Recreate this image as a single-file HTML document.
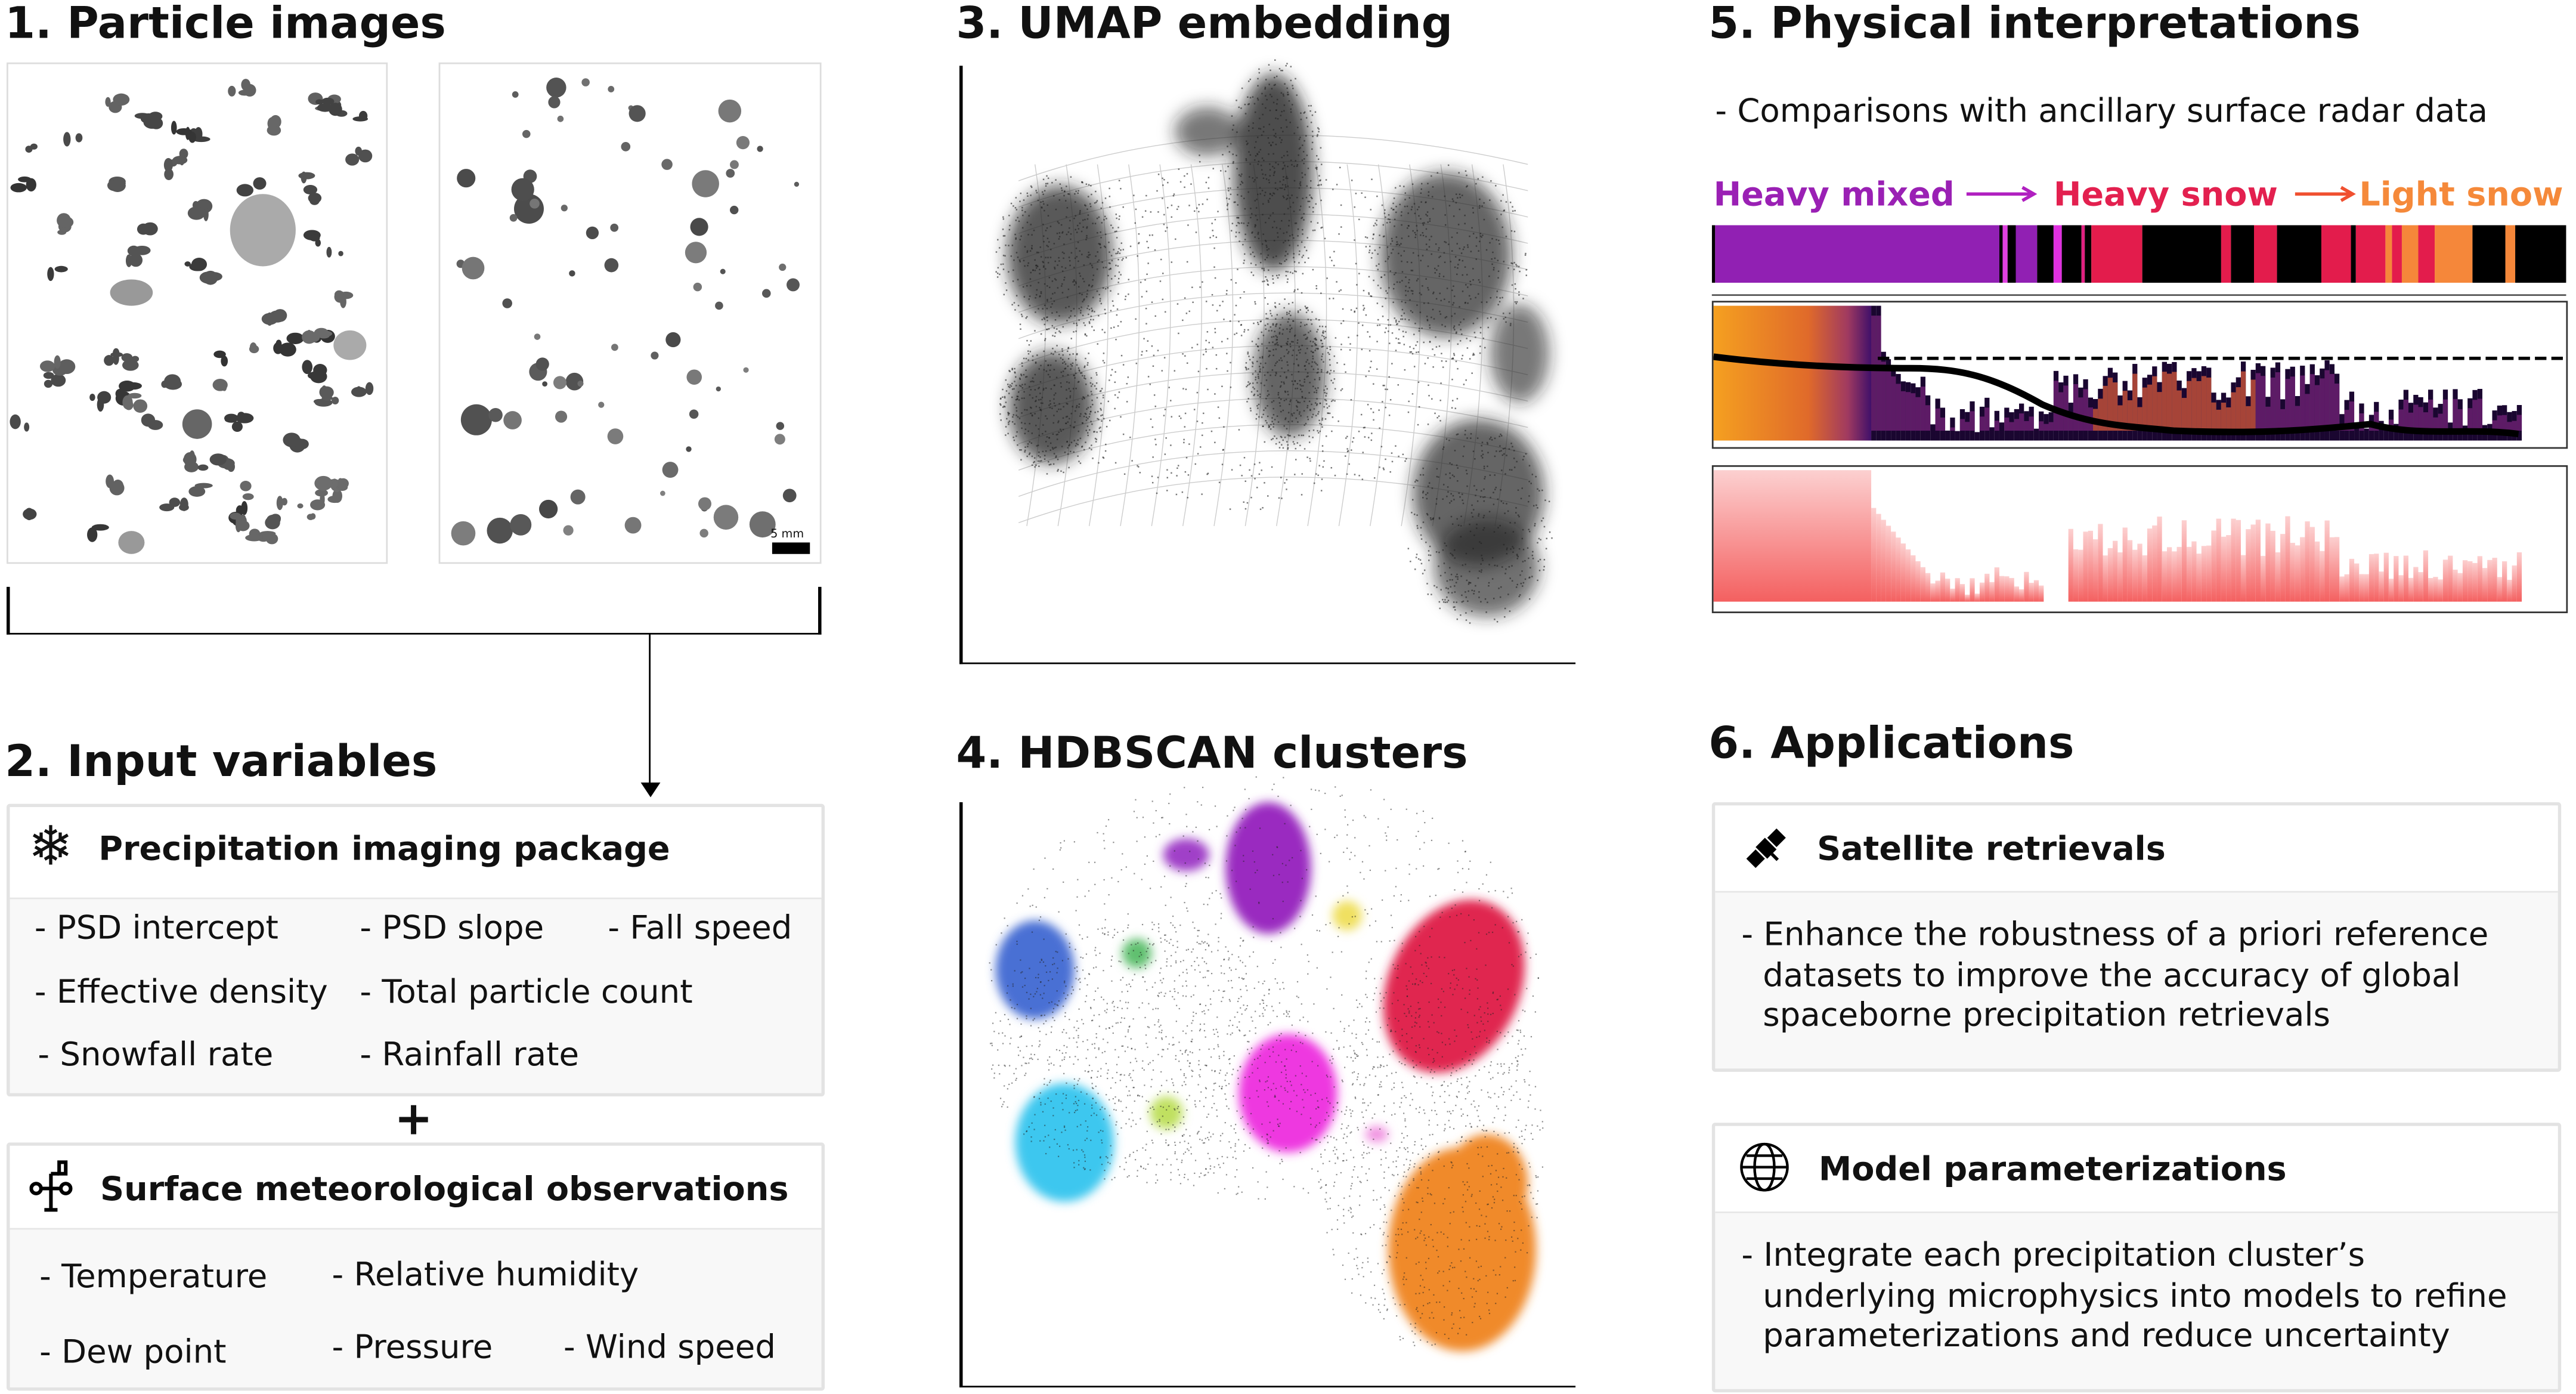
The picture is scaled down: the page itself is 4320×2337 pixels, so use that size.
<!DOCTYPE html>
<html><head><meta charset="utf-8"><style>
html,body{margin:0;padding:0;background:#fff;}
body{width:4320px;height:2337px;overflow:hidden;position:relative;}
#w{position:absolute;left:0;top:0;width:1568px;height:848px;transform:scale(2.7551,2.7559);transform-origin:0 0;font-family:"DejaVu Sans","Liberation Sans",sans-serif;color:#111;}
.t{position:absolute;font-weight:bold;font-size:26.5px;white-space:nowrap;line-height:1;}
.a{position:absolute;font-size:19.8px;white-space:nowrap;line-height:1;}
.h{position:absolute;font-weight:bold;font-size:20.2px;white-space:nowrap;line-height:1;}
.box{position:absolute;border:2px solid #e3e3e3;border-radius:2px;background:#f8f8f8;box-sizing:border-box;}
.hd{position:absolute;left:0;right:0;top:0;background:#fff;border-bottom:1px solid #e6e6e6;}
.ln{position:absolute;background:#000;}
</style></head><body><div id="w">

<div class="t" style="left:3px;top:2px">1. Particle images</div>
<div style="position:absolute;left:4px;top:38px;width:232px;height:305px;border:1.5px solid #ddd;box-sizing:border-box"></div>
<div style="position:absolute;left:267px;top:38px;width:233px;height:305px;border:1.5px solid #ddd;box-sizing:border-box"></div>
<svg id="pa" style="position:absolute;left:0;top:0" width="520" height="350"></svg>
<div style="position:absolute;left:470px;top:330px;width:23px;height:7px;background:#000"></div>
<div style="position:absolute;left:469px;top:321px;font-size:7px">5 mm</div>

<div class="ln" style="left:4px;top:357px;width:1.5px;height:29px"></div>
<div class="ln" style="left:498px;top:357px;width:1.5px;height:29px"></div>
<div class="ln" style="left:4px;top:384.5px;width:496px;height:1.5px"></div>
<div class="ln" style="left:394.5px;top:385px;width:1.5px;height:95px"></div>
<svg style="position:absolute;left:388px;top:476px" width="16" height="10"><polygon points="2,0 14,0 8,9" fill="#000"/></svg>

<div class="t" style="left:3px;top:451px">2. Input variables</div>
<div class="box" style="left:4px;top:489px;width:498px;height:178px"><div class="hd" style="height:55px"></div></div>
<div style="position:absolute;left:17px;top:498px;font-size:33px;line-height:1">❄</div>
<div class="h" style="left:60px;top:506px">Precipitation imaging package</div>
<div class="a" style="left:21px;top:555px">- PSD intercept</div>
<div class="a" style="left:219px;top:555px">- PSD slope</div>
<div class="a" style="left:370px;top:555px">- Fall speed</div>
<div class="a" style="left:21px;top:594px">- Effective density</div>
<div class="a" style="left:219px;top:594px">- Total particle count</div>
<div class="a" style="left:23px;top:632px">- Snowfall rate</div>
<div class="a" style="left:219px;top:632px">- Rainfall rate</div>
<div style="position:absolute;left:240px;top:667px;font-size:28px;font-weight:bold;line-height:1">+</div>
<div class="box" style="left:4px;top:695px;width:498px;height:151px"><div class="hd" style="height:50px"></div></div>
<svg style="position:absolute;left:18px;top:705px" width="30" height="34"><g stroke="#000" stroke-width="2.2" fill="none"><circle cx="4" cy="18" r="3"/><circle cx="22" cy="18" r="3"/><line x1="7" y1="18" x2="19" y2="18"/><line x1="13" y1="9" x2="13" y2="31"/><line x1="13" y1="9" x2="18" y2="9"/><rect x="18" y="2" width="4" height="7"/><line x1="9" y1="31" x2="17" y2="31"/></g></svg>
<div class="h" style="left:61px;top:713px">Surface meteorological observations</div>
<div class="a" style="left:24px;top:767px">- Temperature</div>
<div class="a" style="left:202px;top:766px">- Relative humidity</div>
<div class="a" style="left:24px;top:813px">- Dew point</div>
<div class="a" style="left:202px;top:810px">- Pressure</div>
<div class="a" style="left:343px;top:810px">- Wind speed</div>

<div class="t" style="left:582px;top:2px">3. UMAP embedding</div>
<div class="ln" style="left:584px;top:40px;width:1.5px;height:364px"></div>
<div class="ln" style="left:584px;top:402.5px;width:375px;height:1.5px"></div>
<div class="t" style="left:582px;top:446px">4. HDBSCAN clusters</div>
<div class="ln" style="left:584px;top:488px;width:1.5px;height:356px"></div>
<div class="ln" style="left:584px;top:842.5px;width:375px;height:1.5px"></div>
<svg id="um" style="position:absolute;left:0;top:0" width="1000" height="848">
<defs><filter id="b1"><feGaussianBlur stdDeviation="5"/></filter><filter id="b2"><feGaussianBlur stdDeviation="3"/></filter></defs>
<g id="grid" stroke="#aaa" stroke-width="0.5" fill="none" opacity="0.6"></g>
<g filter="url(#b1)" fill="#222">
<ellipse cx="645" cy="155" rx="32" ry="42" opacity="0.75"/>
<ellipse cx="775" cy="105" rx="24" ry="60" opacity="0.8"/>
<ellipse cx="735" cy="80" rx="20" ry="15" opacity="0.6"/>
<ellipse cx="880" cy="155" rx="40" ry="50" opacity="0.7"/>
<ellipse cx="925" cy="215" rx="18" ry="30" opacity="0.6"/>
<ellipse cx="640" cy="248" rx="26" ry="34" opacity="0.75"/>
<ellipse cx="785" cy="228" rx="22" ry="38" opacity="0.7"/>
<ellipse cx="900" cy="300" rx="40" ry="45" opacity="0.7"/>
<ellipse cx="905" cy="345" rx="32" ry="30" opacity="0.65"/>
</g>
<g filter="url(#b2)">
<ellipse cx="772" cy="528" rx="26" ry="40" fill="#9a2cc0"/>
<ellipse cx="722" cy="520" rx="14" ry="10" fill="#a040c8"/>
<ellipse cx="820" cy="557" rx="9" ry="9" fill="#f0e060"/>
<ellipse cx="885" cy="600" rx="40" ry="55" fill="#e0284f" transform="rotate(25 885 600)"/>
<ellipse cx="630" cy="590" rx="24" ry="30" fill="#4a6fd4"/>
<ellipse cx="692" cy="580" rx="9" ry="9" fill="#60c070"/>
<ellipse cx="648" cy="695" rx="30" ry="36" fill="#3ec7ef"/>
<ellipse cx="710" cy="677" rx="10" ry="10" fill="#c0e060"/>
<ellipse cx="784" cy="665" rx="30" ry="36" fill="#ee38e0"/>
<ellipse cx="838" cy="690" rx="7" ry="5" fill="#f090e0"/>
<ellipse cx="890" cy="760" rx="45" ry="62" fill="#f08a2c"/>
<ellipse cx="905" cy="720" rx="25" ry="30" fill="#f08a2c"/>
</g>
<g id="dots" fill="#222"></g>
</svg>

<div class="t" style="left:1040px;top:2px">5. Physical interpretations</div>
<div class="a" style="left:1044px;top:58px">- Comparisons with ancillary surface radar data</div>
<div class="h" style="left:1043px;top:108px;color:#9a20b4">Heavy mixed</div>
<div class="h" style="left:1250px;top:108px;color:#e3204f">Heavy snow</div>
<div class="h" style="left:1436px;top:108px;color:#f5893a">Light snow</div>
<svg style="position:absolute;left:1195px;top:110px" width="250" height="16"><line x1="2" y1="8" x2="42" y2="8" stroke="#b020c0" stroke-width="2"/><polyline points="36,4 43,8 36,12" fill="none" stroke="#b020c0" stroke-width="2"/><line x1="202" y1="8" x2="236" y2="8" stroke="#f05030" stroke-width="2"/><polyline points="230,4 237,8 230,12" fill="none" stroke="#f05030" stroke-width="2"/></svg>
<svg id="bar" style="position:absolute;left:1042px;top:137px" width="520" height="35"></svg>
<div class="ln" style="left:1042px;top:179px;width:520px;height:1px;background:#555"></div>
<div style="position:absolute;left:1042px;top:183px;width:521px;height:90px;border:1px solid #333;box-sizing:border-box"></div>
<svg id="r1" style="position:absolute;left:1043px;top:184px" width="519" height="88"></svg>
<div style="position:absolute;left:1042px;top:283px;width:521px;height:90px;border:1px solid #333;box-sizing:border-box"></div>
<svg id="r2" style="position:absolute;left:1043px;top:284px" width="519" height="88"></svg>

<div class="t" style="left:1040px;top:440px">6. Applications</div>
<div class="box" style="left:1042px;top:488px;width:517px;height:164px"><div class="hd" style="height:52px"></div></div>
<svg style="position:absolute;left:1060px;top:501px" width="30" height="30"><g transform="rotate(-45 15 15)" fill="#000"><rect x="11" y="10" width="8" height="10"/><rect x="2" y="11" width="8" height="8"/><rect x="20" y="11" width="8" height="8"/><rect x="14" y="20" width="2" height="5"/></g></svg>
<div class="h" style="left:1106px;top:506px">Satellite retrievals</div>
<div class="a" style="left:1060px;top:559px">- Enhance the robustness of a priori reference</div>
<div class="a" style="left:1073px;top:584px">datasets to improve the accuracy of global</div>
<div class="a" style="left:1073px;top:608px">spaceborne precipitation retrievals</div>
<div class="box" style="left:1042px;top:683px;width:517px;height:164px"><div class="hd" style="height:52px"></div></div>
<svg style="position:absolute;left:1058px;top:694px" width="32" height="32"><g fill="none" stroke="#000" stroke-width="1.6"><circle cx="16" cy="16" r="14"/><ellipse cx="16" cy="16" rx="6" ry="14"/><line x1="2" y1="16" x2="30" y2="16"/><path d="M5 9 H27 M5 23 H27"/></g></svg>
<div class="h" style="left:1107px;top:701px">Model parameterizations</div>
<div class="a" style="left:1060px;top:754px">- Integrate each precipitation cluster’s</div>
<div class="a" style="left:1073px;top:779px">underlying microphysics into models to refine</div>
<div class="a" style="left:1073px;top:803px">parameterizations and reduce uncertainty</div>
</div>
<script>
(function(){
var NS="http://www.w3.org/2000/svg";
var s=7;function R(){s=(s*16807)%2147483647;return (s-1)/2147483646;}
function el(p,t,a){var e=document.createElementNS(NS,t);for(var k in a)e.setAttribute(k,a[k]);p.appendChild(e);return e;}
var pa=document.getElementById('pa');
for(var i=0;i<75;i++){var x=15+R()*210,y=50+R()*285,g=Math.floor(50+R()*60);var c='rgb('+g+','+g+','+g+')';
 var n=2+Math.floor(R()*4);for(var j=0;j<n;j++)el(pa,'ellipse',{cx:x+(R()-.5)*12,cy:y+(R()-.5)*8,rx:1.5+R()*4,ry:1.5+R()*3,fill:c});}
el(pa,'ellipse',{cx:160,cy:140,rx:20,ry:22,fill:'#aaa'});el(pa,'ellipse',{cx:80,cy:178,rx:13,ry:8,fill:'#999'});
el(pa,'ellipse',{cx:213,cy:210,rx:10,ry:9,fill:'#aaa'});el(pa,'ellipse',{cx:120,cy:258,rx:9,ry:9,fill:'#666'});el(pa,'ellipse',{cx:80,cy:330,rx:8,ry:7,fill:'#999'});
for(var i=0;i<80;i++){var x=280+R()*210,y=50+R()*280,r=1.5+R()*R()*8,g=Math.floor(70+R()*60);
 el(pa,'circle',{cx:x,cy:y,r:r,fill:'rgb('+g+','+g+','+g+')'});}
var gr=document.getElementById('grid');
for(var i=0;i<14;i++){var y=90+i*16;el(gr,'path',{d:'M620 '+(y+20)+' Q760 '+(y-30)+' 930 '+(y+10)});}
for(var i=0;i<16;i++){var x=630+i*19;el(gr,'path',{d:'M'+x+' 100 Q'+(x+15)+' 200 '+(x-5)+' 320'});}
var d=document.getElementById('dots');
var cl=[[645,155,40,50],[775,105,30,70],[880,160,50,60],[640,248,32,40],[785,228,28,45],[900,320,45,60],[760,200,140,110]];
for(var k=0;k<cl.length;k++){var c=cl[k];for(var i=0;i<(k==6?900:400);i++){var a=R()*6.283,r=Math.sqrt(R());el(d,'rect',{x:c[0]+Math.cos(a)*r*c[2],y:c[1]+Math.sin(a)*r*c[3],width:0.9,height:0.9,opacity:0.6});}}
var cl2=[[770,600,170,130],[700,640,100,80],[870,700,70,120]];
for(var k=0;k<cl2.length;k++){var c=cl2[k];for(var i=0;i<900;i++){var a=R()*6.283,r=Math.sqrt(R());el(d,'rect',{x:c[0]+Math.cos(a)*r*c[2],y:c[1]+Math.sin(a)*r*c[3],width:0.8,height:0.8,opacity:0.5});}}
var b=document.getElementById('bar');
var segs=[[0,2,'#000'],[2,175,'#9120b3'],[175,177,'#000'],[177,180,'#e040e0'],[180,185,'#000'],[185,198,'#9120b3'],[198,208,'#000'],[208,213,'#e030e0'],[213,225,'#000'],[225,227,'#e02080'],[227,231,'#000'],[231,262,'#e31c4c'],[262,310,'#000'],[310,316,'#e31c4c'],[316,330,'#000'],[330,344,'#e31c4c'],[344,371,'#000'],[371,389,'#e31c4c'],[389,392,'#000'],[392,410,'#e31c4c'],[410,414,'#f5873a'],[414,420,'#e31c4c'],[420,430,'#f5873a'],[430,440,'#e31c4c'],[440,463,'#f5873a'],[463,483,'#000'],[483,489,'#f5873a'],[489,520,'#000']];
segs.forEach(function(q){el(b,'rect',{x:q[0],y:0,width:q[1]-q[0],height:35,fill:q[2]});});
var r1=document.getElementById('r1');
var defs=el(r1,'defs',{});var lg=el(defs,'linearGradient',{id:'g1',x1:0,x2:1,y1:0,y2:0});
el(lg,'stop',{offset:'0','stop-color':'#f5a020'});el(lg,'stop',{offset:'0.6','stop-color':'#e06a2a'});el(lg,'stop',{offset:'0.85','stop-color':'#a03a60'});el(lg,'stop',{offset:'1','stop-color':'#40106a'});
el(r1,'rect',{x:0,y:2,width:96,height:82,fill:'url(#g1)'});
for(var x=96;x<492;x+=3){var tp;
 if(x<102)tp=2;else if(x<116)tp=30+(x-102)*1.5;else if(x<130)tp=45+R()*15;else if(x<200)tp=55+R()*25;else if(x<230)tp=40+R()*30;else if(x<380)tp=35+R()*25;else tp=52+R()*25;
 var c=(x>230&&x<330)?'#c0503a':'#6a2070';el(r1,'rect',{x:x,y:tp,width:3,height:84-tp,fill:'#1a0630'});el(r1,'rect',{x:x,y:tp+6,width:3,height:Math.max(0,78-tp-6),fill:c,opacity:0.85});}
el(r1,'line',{x1:100,y1:34,x2:519,y2:34,stroke:'#000','stroke-width':2,'stroke-dasharray':'7,3'});
el(r1,'path',{d:'M0 33 C40 38 80 40 120 40 C150 40 170 45 200 62 C230 75 250 75 280 78 C330 80 360 78 400 74 C430 82 460 76 490 80',fill:'none',stroke:'#000','stroke-width':4});
var r2=document.getElementById('r2');
var d2=el(r2,'defs',{});var l2=el(d2,'linearGradient',{id:'g2',x1:0,x2:0,y1:0,y2:1});
el(l2,'stop',{offset:'0','stop-color':'#fcd0d0'});el(l2,'stop',{offset:'1','stop-color':'#f46060'});
el(r2,'rect',{x:0,y:2,width:96,height:80,fill:'url(#g2)'});
for(var x=96;x<492;x+=3){var tp;
 if(x<130)tp=25+(x-96)*1.2;else if(x<200)tp=60+R()*18;else if(x<215)tp=90;else if(x<380)tp=30+R()*25;else tp=50+R()*20;
 if(tp<82)el(r2,'rect',{x:x,y:tp,width:3,height:82-tp,fill:'url(#g2)'});}
})();
</script>
</body></html>
